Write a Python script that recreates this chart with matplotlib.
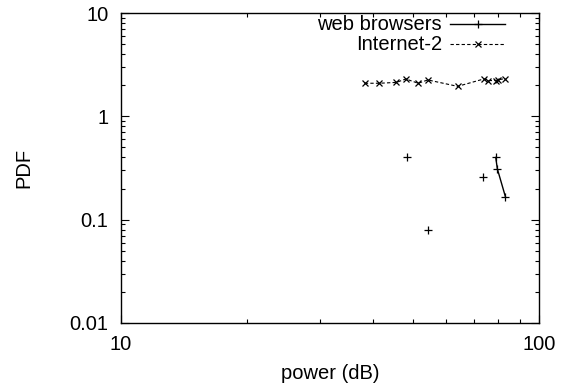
import numpy as np
import matplotlib

matplotlib.use("Agg")
import matplotlib.pyplot as plt
from matplotlib.ticker import LogLocator, FuncFormatter, NullFormatter
from matplotlib.lines import Line2D

plt.rcParams["font.family"] = ["Liberation Sans", "DejaVu Sans"]
plt.rcParams["font.size"] = 14.5

# %% data
# gaps (nan) = isolated points in the original, not connected
web_power = [48.3, np.nan, 54.2, np.nan, 73.3, np.nan, 78.8, 79.5, 83.1]
web_pdf = [0.40, np.nan, 0.080, np.nan, 0.26, np.nan, 0.40, 0.31, 0.167]

i2_power = [38.3, 41.5, 45.6, 48.0, 51.4, 54.2, 63.9, 73.8, 75.5, 78.7, 79.6, 82.9]
i2_pdf = [2.09, 2.09, 2.13, 2.30, 2.09, 2.25, 1.95, 2.30, 2.22, 2.22, 2.25, 2.32]

labels = ["web browsers", "Internet-2"]

# %% figure
fig = plt.figure(figsize=(5.75, 3.9), dpi=100)
ax = fig.add_axes([121 / 575, 1 - 323 / 390, 418 / 575, 310 / 390])

web_style = dict(color="black", lw=1.0, ls="-", marker="+", ms=6, mew=0.9)
i2_style = dict(color="black", lw=0.8, ls=(0, (3, 2)), marker="x", ms=4.5, mew=0.9)

ax.plot(web_power, web_pdf, **web_style)
ax.plot(i2_power, i2_pdf, **i2_style)

ax.set_xscale("log")
ax.set_yscale("log")
ax.set_xlim(10, 100)
ax.set_ylim(0.01, 10)

fmt = FuncFormatter(lambda v, _: f"{v:g}")
ax.xaxis.set_major_locator(LogLocator(base=10, numticks=10))
ax.yaxis.set_major_locator(LogLocator(base=10, numticks=10))
ax.xaxis.set_minor_locator(LogLocator(base=10, subs=np.arange(2, 10), numticks=20))
ax.yaxis.set_minor_locator(LogLocator(base=10, subs=np.arange(2, 10), numticks=20))
ax.xaxis.set_major_formatter(fmt)
ax.yaxis.set_major_formatter(fmt)
ax.xaxis.set_minor_formatter(NullFormatter())
ax.yaxis.set_minor_formatter(NullFormatter())

ax.tick_params(which="both", direction="in", top=True, right=True, width=0.8)
ax.tick_params(which="major", length=6)
ax.tick_params(axis="x", which="major", pad=9)
ax.tick_params(axis="y", which="major", pad=9)
ax.tick_params(which="minor", length=3)
for sp in ax.spines.values():
    sp.set_linewidth(1.0)

ax.set_xlabel("power (dB)", labelpad=7)
ax.set_ylabel("PDF", labelpad=26)

# gnuplot-style key: right-aligned text, sample on its right
for row, (lab, st) in enumerate(zip(labels, [web_style, i2_style])):
    yk = 0.963 - row * 0.064
    ax.text(0.768, yk, lab, transform=ax.transAxes, ha="right", va="center")
    ax.add_line(Line2D([0.787, 0.919], [yk, yk], transform=ax.transAxes,
                       color=st["color"], lw=st["lw"], ls=st["ls"]))
    ax.add_line(Line2D([0.853], [yk], transform=ax.transAxes, ls="none",
                       color=st["color"], marker=st["marker"], ms=st["ms"], mew=st["mew"]))

fig.savefig("out.png", dpi=100)
